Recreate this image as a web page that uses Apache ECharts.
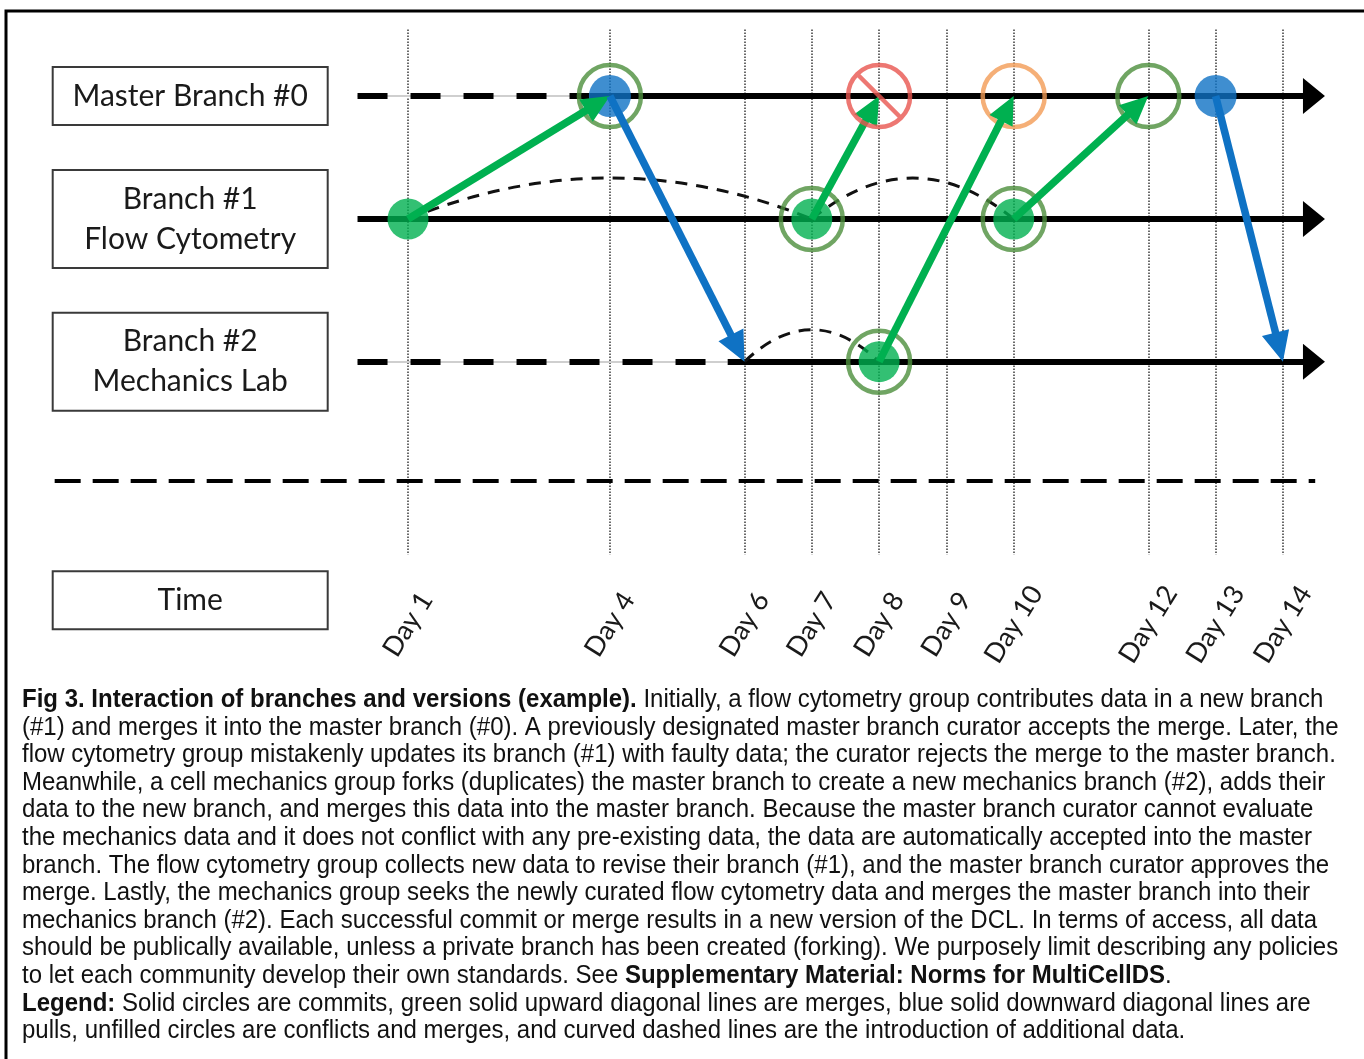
<!DOCTYPE html>
<html><head><meta charset="utf-8">
<script src="https://cdn.jsdelivr.net/npm/echarts@6/dist/echarts.min.js"></script>
<style>html,body{margin:0;padding:0;background:#fff}#c{width:1364px;height:1059px}</style>
</head><body><div id="c"></div>
<script>
// ---- data ----
const dayTicks = [1, 4, 6, 7, 8, 9, 10, 12, 13, 14];
const laneNames = ['Master Branch #0', 'Branch #1\nFlow Cytometry', 'Branch #2\nMechanics Lab'];
const laneRows = [1, 2, 3.16];          // row of each branch (0 = master, 1 = #1, 2 = #2)
const timeRow = 5.1;                     // row of the "Time" label
const timeName = 'Time';
const separatorRow = 4.13;
const separatorSpan = [-4.25, 14.48];
const gridSpan = [0.46, 4.73];           // vertical extent of the day lines
const branchStart = 0.25;
const branchTip = 14.625;
const dashedUntil = [3.7, null, 5.75];   // master and #2 start as dashed lines
// commits [day, lane]
const masterCommits = [[4, 0], [13, 0]];
const dataCommits = [[1, 1], [7, 1], [8, 2], [10, 1]];
// unfilled circles [day, lane]
const mergeRings = [[4, 0], [7, 1], [8, 2], [10, 1], [12, 0]];
const conflictRings = [[10, 0]];
const rejectRings = [[8, 0]];
// merges / pulls [fromDay, fromLane, toDay, toLane]
const merges = [[1, 1, 4, 0], [7, 1, 8, 0], [8, 2, 10, 0], [10, 1, 12, 0]];
const pulls = [[4, 0, 6, 2], [13, 0, 14, 2]];
// additional data [fromDay, toDay, lane]
const additions = [[1, 7, 1], [7, 10, 1], [6, 8, 2]];
const additionBend = [0.203, 0.406, 0.475];

const captionLines = [
  [['b', 'Fig 3. Interaction of branches and versions (example).'], ['n', ' Initially, a flow cytometry group contributes data in a new branch']],
  [['n', '(#1) and merges it into the master branch (#0). A previously designated master branch curator accepts the merge. Later, the']],
  [['n', 'flow cytometry group mistakenly updates its branch (#1) with faulty data; the curator rejects the merge to the master branch.']],
  [['n', 'Meanwhile, a cell mechanics group forks (duplicates) the master branch to create a new mechanics branch (#2), adds their']],
  [['n', 'data to the new branch, and merges this data into the master branch. Because the master branch curator cannot evaluate']],
  [['n', 'the mechanics data and it does not conflict with any pre-existing data, the data are automatically accepted into the master']],
  [['n', 'branch. The flow cytometry group collects new data to revise their branch (#1), and the master branch curator approves the']],
  [['n', 'merge. Lastly, the mechanics group seeks the newly curated flow cytometry data and merges the master branch into their']],
  [['n', 'mechanics branch (#2). Each successful commit or merge results in a new version of the DCL. In terms of access, all data']],
  [['n', 'should be publically available, unless a private branch has been created (forking). We purposely limit describing any policies']],
  [['n', 'to let each community develop their own standards. See '], ['b', 'Supplementary Material: Norms for MultiCellDS'], ['n', '.']],
  [['b', 'Legend:'], ['n', ' Solid circles are commits, green solid upward diagonal lines are merges, blue solid downward diagonal lines are']],
  [['n', 'pulls, unfilled circles are conflicts and merges, and curved dashed lines are the introduction of additional data.']]
];

// ---- chart ----
const GREEN = '#00b050', BLUE = '#0f72c4', RING = '#4c8f3c', RED = '#e8554f', ORANGE = '#f39b55';
const chart = echarts.init(document.getElementById('c'));
const yVals = laneRows.concat([timeRow]);
const yNames = laneNames.concat([timeName]);

const captionText = captionLines.map(l => l.map(([s, t]) => '{' + s + '|' + t + '}').join('')).join('\n');
const capFont = { fontFamily: 'Liberation Sans, Arial, sans-serif', fontSize: 26, lineHeight: 27.6, fill: '#111' };

chart.setOption({
  animation: false,
  backgroundColor: '#ffffff',
  grid: { left: 340.7, right: 13.8, top: 34.5, bottom: 409.5, outerBoundsMode: 'none' },
  xAxis: {
    type: 'value', min: 0, max: 15, offset: -92,
    axisLine: { show: false }, axisTick: { show: false }, splitLine: { show: false },
    axisLabel: {
      customValues: dayTicks, formatter: v => 'Day ' + v, rotate: 58,
      align: 'center', verticalAlign: 'middle', margin: 67,
      fontFamily: 'Lato', fontSize: 27, color: '#1a1a1a'
    }
  },
  yAxis: {
    type: 'value', min: 0.5, max: 5.5, inverse: true,
    axisLine: { show: false }, axisTick: { show: false }, splitLine: { show: false },
    axisLabel: {
      customValues: yVals,
      formatter: v => {
        let k = 0;
        yVals.forEach((y, i) => { if (Math.abs(y - v) < Math.abs(yVals[k] - v)) k = i; });
        return '{box|' + yNames[k] + '}';
      },
      margin: 14, borderColor: '#3a3a3a', borderWidth: 2, padding: [8, 8],
      backgroundColor: '#fff',
      rich: { box: { width: 257, align: 'center', fontFamily: 'Lato', fontSize: 30, lineHeight: 40, color: '#1a1a1a' } }
    }
  },
  graphic: [
    { type: 'rect', shape: { x: 6, y: 11, width: 1400, height: 1100 }, style: { fill: 'none', stroke: '#000', lineWidth: 3 }, z: 0 },
    {
      type: 'text', x: 22, y: 686, scaleX: 0.923, z: 10,
      style: Object.assign({ text: captionText, rich: { b: Object.assign({ fontWeight: 'bold' }, capFont), n: Object.assign({}, capFont) } }, capFont)
    }
  ],
  series: []
});

const P = p => chart.convertToPixel({ gridIndex: 0 }, p);
const D = p => chart.convertFromPixel({ gridIndex: 0 }, p);
function arrowParts(from, to, headLen, inset) {
  const a = P(from), b = P(to);
  const L = Math.hypot(b[0] - a[0], b[1] - a[1]);
  const u = [(b[0] - a[0]) / L, (b[1] - a[1]) / L];
  return {
    shaft: { coords: [from, D([b[0] - u[0] * inset, b[1] - u[1] * inset])] },
    head: { coords: [D([b[0] - u[0] * headLen, b[1] - u[1] * headLen]), to] }
  };
}
const pt = (d, lane) => [d, laneRows[lane]];

const HEAD_MAIN = 'path://M-22,-22 L22,-22 Z M-18,22 L0,0 L18,22 Z';
const HEAD_GREEN = 'path://M-28,-28 L28,-28 Z M-13,28 L0,0 L13,28 Z';
const HEAD_BLUE = 'path://M-30,-30 L30,-30 Z M-14,30 L0,0 L14,30 Z';
const REJECT = 'path://M0,-31 A31,31 0 1,1 0,31 A31,31 0 1,1 0,-31 Z M-22,-22 L22,22';

const dashedData = [], solidShafts = [], mainHeads = [];
laneRows.forEach((r, i) => {
  const solidFrom = dashedUntil[i] == null ? branchStart : dashedUntil[i];
  if (dashedUntil[i] != null) dashedData.push({ coords: [[branchStart, r], [dashedUntil[i], r]] });
  const parts = arrowParts([solidFrom, r], [branchTip, r], 20, 10);
  solidShafts.push(parts.shaft);
  mainHeads.push(parts.head);
});

const mergeParts = merges.map(m => arrowParts(pt(m[0], m[1]), pt(m[2], m[3]), 26, 16));
const pullParts = pulls.map(m => arrowParts(pt(m[0], m[1]), pt(m[2], m[3]), 28, 16));

const L = (extra) => Object.assign({ type: 'lines', coordinateSystem: 'cartesian2d', polyline: false, silent: true, clip: false, symbol: 'none' }, extra);
const S = (extra) => Object.assign({ type: 'scatter', silent: true, clip: false }, extra);

let z = 1;
chart.setOption({
  series: [
    L({ z: z++, lineStyle: { color: '#3a3a3a', width: 1.5, type: 'dotted', opacity: 1 }, data: dayTicks.map(d => ({ coords: [[d, gridSpan[0]], [d, gridSpan[1]]] })) }),
    L({ z: z++, lineStyle: { color: '#000', width: 4, type: [26, 12], opacity: 1 }, data: [{ coords: [[separatorSpan[0], separatorRow], [separatorSpan[1], separatorRow]] }] }),
    L({ z: z++, lineStyle: { color: '#cfcfcf', width: 2, opacity: 1 }, data: dashedData }),
    L({ z: z++, lineStyle: { color: '#000', width: 6, type: [30, 23], opacity: 1 }, data: dashedData }),
    L({ z: z++, lineStyle: { color: '#000', width: 6, opacity: 1 }, data: solidShafts }),
    L({ z: z++, symbol: ['none', HEAD_MAIN], symbolSize: 44, lineStyle: { color: '#000', width: 0, opacity: 1 }, data: mainHeads }),
    L({ z: z++, lineStyle: { color: '#111', width: 3, type: [12, 9], opacity: 1 },
        data: additions.map((a, i) => ({ coords: [pt(a[0], a[2]), pt(a[1], a[2])], lineStyle: { curveness: additionBend[i] } })) }),
    S({ z: z++, symbol: 'circle', symbolSize: 62, itemStyle: { color: 'rgba(0,0,0,0)', borderColor: RING, borderWidth: 4.5 }, data: mergeRings.map(c => pt(c[0], c[1])) }),
    S({ z: z++, symbol: 'circle', symbolSize: 62, itemStyle: { color: 'rgba(0,0,0,0)', borderColor: ORANGE, borderWidth: 4.5 }, data: conflictRings.map(c => pt(c[0], c[1])) }),
    S({ z: z++, symbol: 'circle', symbolSize: 41, itemStyle: { color: GREEN }, data: dataCommits.map(c => pt(c[0], c[1])) }),
    S({ z: z++, symbol: 'circle', symbolSize: 42, itemStyle: { color: BLUE }, data: masterCommits.map(c => pt(c[0], c[1])) }),
    L({ z: z++, lineStyle: { color: GREEN, width: 7.5, opacity: 1 }, data: mergeParts.map(p => p.shaft) }),
    L({ z: z++, symbol: ['none', HEAD_GREEN], symbolSize: 56, lineStyle: { color: GREEN, width: 0, opacity: 1 }, data: mergeParts.map(p => p.head) }),
    L({ z: z++, lineStyle: { color: BLUE, width: 7.5, opacity: 1 }, data: pullParts.map(p => p.shaft) }),
    L({ z: z++, symbol: ['none', HEAD_BLUE], symbolSize: 60, lineStyle: { color: BLUE, width: 0, opacity: 1 }, data: pullParts.map(p => p.head) }),
    S({ z: z++, symbol: REJECT, symbolSize: 62, itemStyle: { color: 'rgba(0,0,0,0)', borderColor: RED, borderWidth: 4.5 }, data: rejectRings.map(c => pt(c[0], c[1])) })
  ]
});
</script>
</body></html>
